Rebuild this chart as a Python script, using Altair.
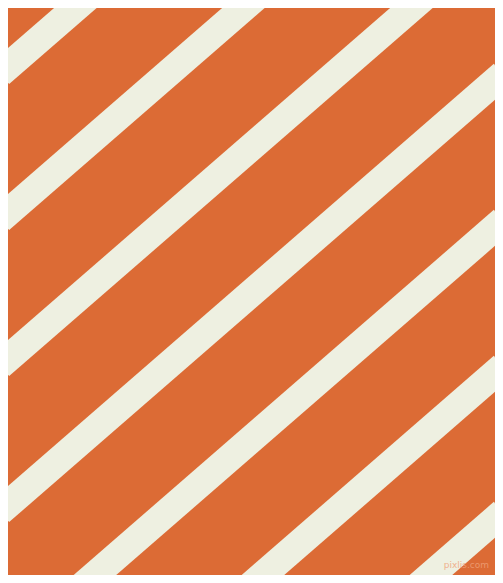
import altair as alt
import pandas as pd

# Stripe geometry (pixel units of the 503x583 image)
stripe_intercepts = [-91, 55, 201, 347, 493, 639, 785, 931, 1077]  # y of stripe's upper edge at x=0
stripe_slope = 0.869          # vertical drop per px to the right (~41 deg)
stripe_vertical_thickness = 37
x_ends = [0, 503]

watermark_text = ["pixlis.com"]
watermark_x = [489]
watermark_y = [565]

bg_color = "#DC6B35"
stripe_color = "#EEF0E1"

rows = []
for i, c in enumerate(stripe_intercepts):
    centre = c + stripe_vertical_thickness / 2
    for x in x_ends:
        rows.append({"stripe": i, "x": x, "y": centre - stripe_slope * x})
stripes = pd.DataFrame(rows)

wm = pd.DataFrame({"t": watermark_text, "x": watermark_x, "y": watermark_y})

# page margin is 8px: show the image's interior region 8..495 x 8..575 at 1:1 scale
xs = alt.Scale(domain=[8, 495], nice=False, zero=False)
ys = alt.Scale(domain=[8, 575], nice=False, zero=False, reverse=True)

perp_width = stripe_vertical_thickness / (1 + stripe_slope ** 2) ** 0.5

lines = alt.Chart(stripes).mark_line(
    color=stripe_color, strokeWidth=perp_width, strokeCap="butt", clip=True
).encode(
    x=alt.X("x:Q", scale=xs, axis=None),
    y=alt.Y("y:Q", scale=ys, axis=None),
    detail="stripe:N",
    order="x:Q",
)

text = alt.Chart(wm).mark_text(
    font="DejaVu Sans", fontSize=9, color="#F0A27A", opacity=0.8, align="right"
).encode(
    x=alt.X("x:Q", scale=xs, axis=None),
    y=alt.Y("y:Q", scale=ys, axis=None),
    text="t:N",
)

chart = alt.layer(lines, text).properties(
    width=487, height=567, padding=0, background=bg_color,
    autosize=alt.AutoSizeParams(type="none"),
).configure_view(stroke=None, fill=bg_color)

chart.save("out.html", embed_options={"renderer": "svg", "actions": False})
